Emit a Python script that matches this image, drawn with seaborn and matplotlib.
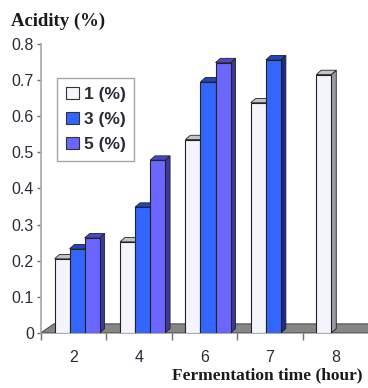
import numpy as np
import pandas as pd
import matplotlib
matplotlib.use("Agg")
import matplotlib.pyplot as plt
from matplotlib.patches import Polygon, Patch
import seaborn as sns

# data
times = ['2', '4', '6', '7', '8']
acid_1 = [0.205, 0.252, 0.535, 0.637, 0.715]
acid_3 = [0.233, 0.348, 0.695, 0.756, np.nan]
acid_5 = [0.263, 0.478, 0.748, np.nan, np.nan]
series = ['1 (%)', '3 (%)', '5 (%)']

rows = []
for name, vals in zip(series, [acid_1, acid_3, acid_5]):
    for t, v in zip(times, vals):
        if not np.isnan(v):
            rows.append({'time': t, 'acidity': v, 'conc': name})
df = pd.DataFrame(rows)

front = {'1 (%)': '#f4f4fc', '3 (%)': '#3366ff', '5 (%)': '#6a66ff'}
side = {'1 (%)': '#9a9aa2', '3 (%)': '#1a2c8c', '5 (%)': '#3a3a9e'}
top = {'1 (%)': '#c4c4c8', '3 (%)': '#2244c8', '5 (%)': '#4a48c8'}

txt = '#2a2a38'
sns.set_style('white')
plt.rcParams['font.family'] = ['Liberation Sans', 'DejaVu Sans']

fig = plt.figure(figsize=(3.68, 3.88), dpi=100)
ax = fig.add_axes([0.111, 0.142, 0.889, 0.745])

sns.barplot(data=df, x='time', y='acidity', hue='conc', order=times,
            hue_order=series, palette=front, saturation=1, width=0.69,
            edgecolor='#222222', linewidth=0.8, legend=False, ax=ax, zorder=3)

ax.set_xlim(-0.5, 4.5)
ax.set_ylim(0, 0.8)

# floor
fdx, fdy = 0.2, 0.025
floor = Polygon([(-0.5, 0), (4.5, 0), (4.5 + fdx, fdy), (-0.5 + fdx, fdy)],
                closed=True, facecolor='#868686', edgecolor='#505050',
                linewidth=0.8, clip_on=False, zorder=1)
ax.add_patch(floor)

# fake 3d faces on each bar
dx, dy = 0.075, 0.012
shift = 0.055
bars = [p for p in ax.patches if p is not floor]
for p in bars:
    h = p.get_height()
    if not np.isfinite(h) or h <= 0:
        continue
    p.set_x(p.get_x() + shift)
    x0 = p.get_x()
    w = p.get_width()
    fc = matplotlib.colors.to_hex(p.get_facecolor())
    key = [k for k, v in front.items() if v.lower() == fc.lower()]
    key = key[0] if key else '1 (%)'
    ax.add_patch(Polygon([(x0 + w, 0), (x0 + w + dx, dy), (x0 + w + dx, h + dy), (x0 + w, h)],
                         closed=True, facecolor=side[key], edgecolor='#222222',
                         linewidth=0.6, zorder=2.9, clip_on=False))
    ax.add_patch(Polygon([(x0, h), (x0 + dx, h + dy), (x0 + w + dx, h + dy), (x0 + w, h)],
                         closed=True, facecolor=top[key], edgecolor='#222222',
                         linewidth=0.6, zorder=2.9, clip_on=False))

# axes styling
for s in ['top', 'right', 'bottom']:
    ax.spines[s].set_visible(False)
ax.spines['left'].set_color('#a8a8a8')
ax.spines['left'].set_linewidth(1.2)

ax.set_yticks(np.arange(0, 0.81, 0.1))
ax.set_yticklabels(['0', '0.1', '0.2', '0.3', '0.4', '0.5', '0.6', '0.7', '0.8'])
ax.tick_params(axis='y', length=3, width=1, color='#707070', labelsize=11.5,
               labelcolor=txt, pad=2, left=True)
ax.set_xticks(range(len(times)))
ax.set_xticklabels(times)
ax.set_xticks(np.arange(-0.5, 4.5, 1), minor=True)
ax.tick_params(axis='x', which='major', length=0, labelsize=11.5, labelcolor=txt, pad=12)
ax.tick_params(axis='x', which='minor', length=5, width=1, color='#707070', bottom=True)

ax.set_xlabel('')
ax.set_ylabel('')
fig.text(0.03, 0.944, 'Acidity (%)', fontsize=13.5, fontweight='bold',
         family='Liberation Serif', color='#1a1a1a', ha='left', va='center')
fig.text(0.985, 0.032, 'Fermentation time (hour)', fontsize=12.5, fontweight='bold',
         family='Liberation Serif', color='#1a1a1a', ha='right', va='center')

handles = [Patch(facecolor=front[s], edgecolor='#333333', linewidth=0.8) for s in series]
leg = ax.legend(handles, series, loc='upper left', bbox_to_anchor=(0.049, 0.882),
                frameon=True, fancybox=False, handlelength=0.75, handleheight=0.75,
                handletextpad=0.3, labelspacing=0.55, borderpad=0.5, borderaxespad=0,
                prop={'weight': 'bold', 'size': 12.5})
leg.get_frame().set_edgecolor('#909090')
leg.get_frame().set_linewidth(1)
for t in leg.get_texts():
    t.set_color(txt)

fig.savefig('out.png', dpi=100)
plt.close(fig)
